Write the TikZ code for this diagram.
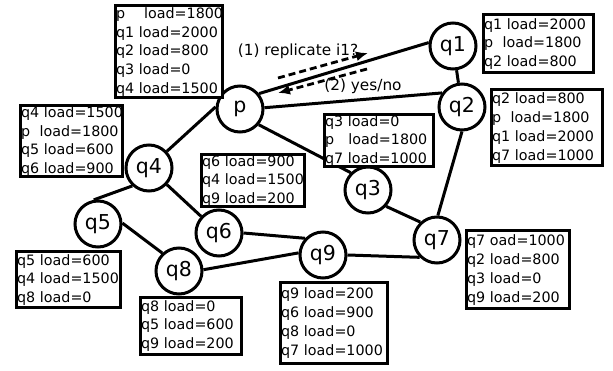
\documentclass[tikz,border=0pt]{standalone}
\usepackage{fontspec}
\setmainfont{DejaVu Sans}
\usetikzlibrary{arrows.meta}
\hbadness=10000 \hfuzz=20pt

\begin{document}
\begin{tikzpicture}[x=1pt,y=-1pt,
  peer/.style={circle, draw, line width=3pt, minimum size=46pt, inner sep=0pt,
    font=\fontsize{20.5}{24}\selectfont},
  link/.style={line width=3pt},
  tbl/.style 2 args={draw, fill=white, line width=3pt, anchor=north west, align=left,
    inner xsep=1pt, inner ysep=0pt, text width=#1pt-5pt, minimum height=#2pt-3pt,
    font=\fontsize{14.3}{18.8}\selectfont},
  msg/.style={line width=2.8pt, dash pattern=on 7pt off 4pt,
    -{Latex[length=12pt,width=10pt]}},
  note/.style={font=\fontsize{15.3}{18}\selectfont, inner sep=0pt}]

\useasboundingbox (0,0) rectangle (613,371);

% peers
\node[peer] (p)  at (240,109) {p};
\node[peer] (q1) at (453,46)  {q1};
\node[peer] (q2) at (462,107) {q2};
\node[peer] (q3) at (368,190) {q3};
\node[peer] (q4) at (149,168) {q4};
\node[peer] (q5) at (98,224)  {q5};
\node[peer] (q6) at (219,233) {q6};
\node[peer] (q7) at (437,240) {q7};
\node[peer] (q8) at (179,271) {q8};
\node[peer] (q9) at (323,255) {q9};

% overlay links (anchors follow the hand-drawn attachment points)
\draw[link] (p.39)  -- (q1.172);
\draw[link] (p.3)   -- (q2.145);
\draw[link] (p.-40) -- (q3.135);
\draw[link] (p.175) -- (q4.43);
\draw[link] (q1)    -- (q2);
\draw[link] (q2.-90) -- (q7.88);
\draw[link] (q3.-42) -- (q7.133);
\draw[link] (q4.-133) -- (q5.100);
\draw[link] (q4) -- (q6);
\draw[link] (q5.2)  -- (q8.133);
\draw[link] (q6.0)  -- (q9.137);
\draw[link] (q8.3)  -- (q9.175);
\draw[link] (q9.0)  -- (q7.-135);

% request / reply messages
\coordinate (r1s) at (278,78);
\coordinate (r1e) at (368,53);
\coordinate (r2s) at (367,69);
\coordinate (r2e) at (278,93);
\draw[msg] (r1s) -- (r1e);
\draw[msg] (r2s) -- (r2e);
\node[note] (l1) at (298,51) {(1) replicate i1?};
\node[note] (l2) at (363,86) {(2) yes/no};

% load tables (ties keep each entry on one line)
\node[tbl={110}{95}] (tp) at (113.5,4.5)
  {p~~~~load=1800\\q1~load=2000\\q2~load=800\\q3~load=0\\q4~load=1500};
\node[tbl={113}{61}] (t1) at (481.5,13.5)
  {q1~load=2000\\p~~load=1800\\q2~load=800};
\node[tbl={114}{79}] (t2) at (489.5,88.5)
  {q2~load=800\\p~~load=1800\\q1~load=2000\\q7~load=1000};
\node[tbl={112}{55}] (t3) at (322.5,113.5)
  {q3~load=0\\p~~~load=1800\\q7~load=1000};
\node[tbl={105}{74}] (t4) at (18.5,104.5)
  {q4~load=1500\\p~~load=1800\\q5~load=600\\q6~load=900};
\node[tbl={106}{55}] (t6) at (199.5,153.5)
  {q6~load=900\\q4~load=1500\\q9~load=200};
\node[tbl={107}{59}] (t5) at (14.5,250.5)
  {q5~load=600\\q4~load=1500\\q8~load=0};
\node[tbl={104}{59}] (t8) at (138.5,296.5)
  {q8~load=0\\q5~load=600\\q9~load=200};
\node[tbl={110}{83}] (t9) at (278.5,281.5)
  {q9~load=200\\q6~load=900\\q8~load=0\\q7~load=1000};
\node[tbl={106}{81}] (t7) at (464.5,229.5)
  {q7~oad=1000\\q2~load=800\\q3~load=0\\q9~load=200};
\end{tikzpicture}
\end{document}
